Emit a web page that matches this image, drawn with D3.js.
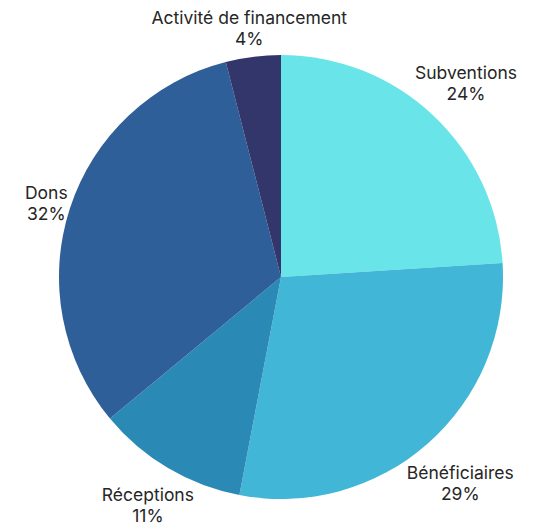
<!DOCTYPE html>
<html>
<head>
<meta charset="utf-8">
<script src="https://cdn.jsdelivr.net/npm/d3@7"></script>
<style>
  body { margin: 0; background: #fff; }
  text { font-family: Inter, "Open Sans", sans-serif; font-size: 17.5px; fill: #262626; }
</style>
</head>
<body>
<div id="chart"></div>
<script>
// chart data
const categories = ["Subventions", "Bénéficiaires", "Réceptions", "Dons", "Activité de financement"];
const shares = [24, 29, 11, 32, 4];
const colors = ["#69e4e8", "#42b6d6", "#2b89b6", "#2e5f98", "#33366b"];

const width = 536, height = 531;
const cx = 281, cy = 277, radius = 222;

const svg = d3.select("#chart").append("svg")
    .attr("width", width)
    .attr("height", height);

const g = svg.append("g").attr("transform", `translate(${cx},${cy})`);

const data = categories.map((c, i) => ({name: c, value: shares[i], color: colors[i]}));

const pie = d3.pie().sort(null).value(d => d.value);
const arc = d3.arc().innerRadius(0).outerRadius(radius);

const arcs = pie(data);

g.selectAll("path.slice")
    .data(arcs)
    .enter().append("path")
    .attr("class", "slice")
    .attr("d", arc)
    .attr("fill", d => d.data.color);

// labels outside the pie, two lines each
const lineH = 21;
const labels = g.selectAll("g.label")
    .data(arcs)
    .enter().append("g")
    .attr("class", "label");

labels.append("text")
    .attr("text-anchor", "middle")
    .attr("y", -lineH / 2 + 6)
    .text(d => d.data.name);
labels.append("text")
    .attr("text-anchor", "middle")
    .attr("y", lineH / 2 + 6)
    .text(d => d.data.value + "%");

labels.each(function (d) {
    let bb = this.getBBox();
    let a = (d.startAngle + d.endAngle) / 2;
    let s = Math.sin(a), c = -Math.cos(a);
    let r = radius - 2 + Math.abs(s) * bb.width / 2 + Math.abs(c) * bb.height / 2;
    d3.select(this).attr("transform", `translate(${r * s},${r * c + 3})`);
});
</script>
</body>
</html>
